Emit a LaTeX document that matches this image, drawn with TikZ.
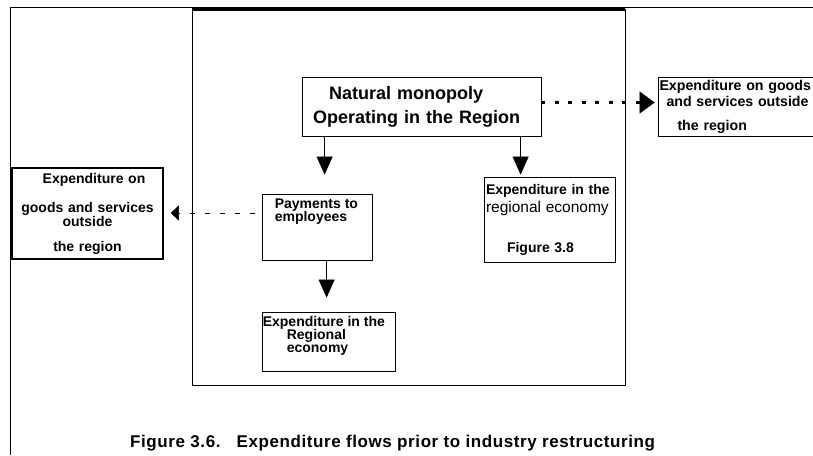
\documentclass[tikz,border=0pt]{standalone}
\usepackage{fontspec}
\setmainfont{Liberation Sans}
\usetikzlibrary{positioning,arrows.meta}
\setlength{\lineskiplimit}{-20pt}
\tikzset{
  flow/.style={-{Triangle[length=18pt,width=16pt,line width=0.4pt]},line width=0.9pt},
  dotflow/.style={-{Triangle[length=15pt,width=22pt,line width=0.4pt]},line width=3pt,
    dash pattern=on 4pt off 9.5pt},
  dashflow/.style={-{Triangle[length=8pt,width=15pt,line width=0.4pt]},line width=0.8pt,
    dash pattern=on 5pt off 10pt},
  box/.style={draw,line width=0.8pt,inner ysep=0pt,align=left,
    font=\bfseries\fontsize{14}{13}\selectfont},
  bigbox/.style={box,font=\bfseries\fontsize{18}{24}\selectfont},
  boxtext/.style={inner sep=0pt,align=left,font=\bfseries\fontsize{14}{13}\selectfont},
  caption/.style={font=\bfseries\fontsize{17}{20}\selectfont\addfontfeatures{LetterSpace=3.5},
    inner sep=0pt}
}
\begin{document}
\begin{tikzpicture}[x=1pt,y=-1pt]
  \useasboundingbox (0,0) rectangle (813,455);
  % frame and region boundary
  \draw[line width=0.8pt] (10,455) -- (10,7) -- (813,7);
  \draw[line width=0.9pt] (192,9) rectangle (625,385);
  \draw[line width=3.5pt] (192,9) -- (625,9);
  % boxes
  \node[bigbox,inner xsep=11pt,text width=217pt,minimum height=59pt] (mono) at (421.5,106.5)
    {\hspace*{16pt}Natural monopoly\\Operating in the Region};
  \node[box,inner xsep=1.5pt,text width=155pt,minimum height=59pt,
    font=\bfseries\fontsize{14.2}{16}\selectfont] (outR) at (737,106.5)
    {Expenditure on goods\\\hspace*{7pt}and services outside\\[8pt]\hspace*{18pt}the region};
  \node[box,align=center,inner xsep=2pt,text width=147pt,minimum height=91pt,line width=1.6pt]
    (outL) at (87.5,213.5)
    {\hspace*{13pt}Expenditure on\\[15pt]goods and services\hspace*{11pt}\\outside\hspace*{15pt}\\[12pt]the region\hspace*{17pt}};
  \node[draw,line width=0.8pt,minimum width=110pt,minimum height=66pt] (pay) at (317,227) {};
  \node[boxtext,anchor=north west,font=\bfseries\fontsize{14}{13.5}\selectfont]
    (payT) at ([xshift=13pt,yshift=-5pt]pay.north west) {Payments to\\employees};
  \node[box,inner xsep=2pt,text width=127pt,minimum height=85pt,
    font=\bfseries\fontsize{14}{18}\selectfont] (regE) at (549.5,219.5)
    {Expenditure in the\\{\mdseries\fontsize{15.5}{18}\selectfont regional economy}\\[22pt]\hspace*{21pt}Figure 3.8};
  \node[draw,line width=0.8pt,minimum width=133pt,minimum height=59pt] (regP) at (328.5,341.5) {};
  \node[boxtext,anchor=north west] (regPT) at ([xshift=1pt,yshift=-5pt]regP.north west)
    {Expenditure in the\\\hspace*{24pt}Regional\\\hspace*{24pt}economy};
  % flows
  \draw[flow,shorten >=19pt] ([xshift=23pt]mono.south west) -- ([xshift=23pt]mono.south west |- pay.north);
  \draw[flow,shorten >=2pt] ([xshift=37pt]regE.north west |- mono.south) -- ([xshift=37pt]regE.north west);
  \draw[flow,shorten >=14pt] ([xshift=65pt]pay.south west) -- ([xshift=65pt]pay.south west |- regP.north);
  \draw[dotflow,shorten >=3pt] ([yshift=4pt]mono.east) -- ([yshift=4pt]mono.east -| outR.west);
  \draw[dashflow,shorten <=7pt,shorten >=7pt] ([yshift=14pt]pay.west) -- ([yshift=14pt]pay.west -| outL.east);
  % caption
  \node[caption,anchor=west] (cap) at (130,443)
    {Figure 3.6.\hspace{16pt}Expenditure flows prior to industry restructuring};
\end{tikzpicture}
\end{document}
